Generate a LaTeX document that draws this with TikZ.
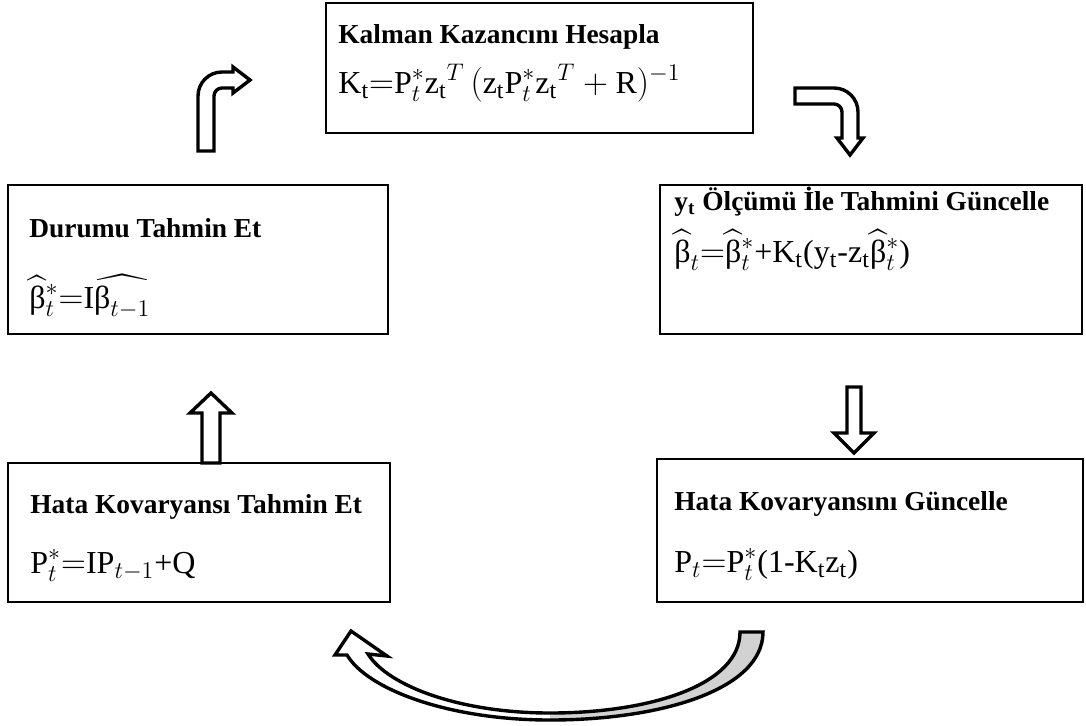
\documentclass[tikz,border=0pt]{standalone}
\usepackage{amsmath}
\usepackage{fontspec}
\setmainfont{Liberation Serif}
\DeclareMathSizes{16}{16}{12}{9}
\begin{document}
\begin{tikzpicture}[x=0.5pt,y=-0.5pt,line join=miter,
    kutu/.style={draw=black,line width=1pt,inner sep=0pt},
    baslik/.style={anchor=base west,inner sep=0pt,font=\fontsize{13.7}{16}\selectfont\bfseries},
    formul/.style={anchor=base west,inner sep=0pt,font=\fontsize{16}{19}\selectfont},
    okblok/.style={draw=black,line width=1.7pt,fill=white}]
  \useasboundingbox (0,0) rectangle (1086,725);

  % kutular
  \foreach \n/\cx/\cy/\w/\h in {kalman/539.5/68/427/130, durum/198/259.5/380/149,
      guncel/871/259.5/422/149, hkt/199/532.5/382/139, hkg/870/530.5/426/143} {
    \node[kutu,minimum width=\w*0.5pt,minimum height=\h*0.5pt] (\n) at (\cx,\cy) {};
  }

  % yazilar
  \node[baslik] (kalmanB) at (338,43) {Kalman Kazancını Hesapla};
  \node[formul] (kalmanF) at (338,93)
    {$\mathrm{K_t}{=}\mathrm{P}^*_t\mathrm{z_t}{}^{T}\,(\mathrm{z_t}\mathrm{P}^*_t\mathrm{z_t}{}^{T}+\mathrm{R})^{-1}$};
  \node[baslik] (durumB) at (29,237) {Durumu Tahmin Et};
  \node[formul] (durumF) at (29,308)
    {$\widehat{\textrm{β}}{}^*_t{=}\mathrm{I}\widehat{\textrm{β}_{t-1}}$};
  \node[baslik] (guncelB) at (674,210) {$\mathbf{y}_{\mathbf{t}}$ Ölçümü İle Tahmini Güncelle};
  \node[formul] (guncelF) at (674,262)
    {$\widehat{\textrm{β}}_t{=}\widehat{\textrm{β}}{}^*_t$+$\mathrm{K_t}$($\mathrm{y_t}$-$\mathrm{z_t}\widehat{\textrm{β}}{}^*_t$)};
  \node[baslik] (hktB) at (30,513) {Hata Kovaryansı Tahmin Et};
  \node[formul] (hktF) at (30,573) {$\mathrm{P}^*_t{=}\mathrm{IP}_{t-1}$+Q};
  \node[baslik] (hkgB) at (674,510) {Hata Kovaryansını Güncelle};
  \node[formul] (hkgF) at (674,572) {$\mathrm{P}_t{=}\mathrm{P}^*_t$(1-$\mathrm{K_t z_t}$)};

  % oklar
  \draw[okblok] (198,151) -- (198,96) .. controls (198,82.7) and (208.7,72) .. (222,72)
    -- (233,72) -- (233,67) -- (250,80) -- (233,93) -- (233,88) -- (222,88)
    .. controls (217.6,88) and (214,91.6) .. (214,96) -- (214,151) -- cycle;
  \draw[okblok] (795,88) -- (834,88) .. controls (847.3,88) and (858,98.7) .. (858,112)
    -- (858,138) -- (863,138) -- (850,155) -- (837,138) -- (842,138) -- (842,112)
    .. controls (842,107.6) and (838.4,104) .. (834,104) -- (795,104) -- cycle;
  \draw[okblok] (202,463) -- (202,413) -- (190,413) -- (211,393) -- (232,413)
    -- (220,413) -- (220,463) -- cycle;
  \draw[okblok] (847,387) -- (847,433) -- (834,433) -- (854,453) -- (874,433)
    -- (861,433) -- (861,387) -- cycle;

  % alttaki egri ok
  \fill[gray!35] (763,632) .. controls (763,690) and (660,720) .. (550,720)
    -- (550,713) .. controls (650,713) and (740,685) .. (740,632) -- cycle;
  \draw[okblok,fill=none] (740,632) -- (763,632) .. controls (763,690) and (660,720) .. (550,720)
    .. controls (450,720) and (368,690) .. (347,655) -- (335,655) -- (351,631)
    -- (387,656) -- (368,654) .. controls (388,686) and (460,713) .. (550,713)
    .. controls (650,713) and (740,685) .. (740,632) -- cycle;
\end{tikzpicture}
\end{document}
